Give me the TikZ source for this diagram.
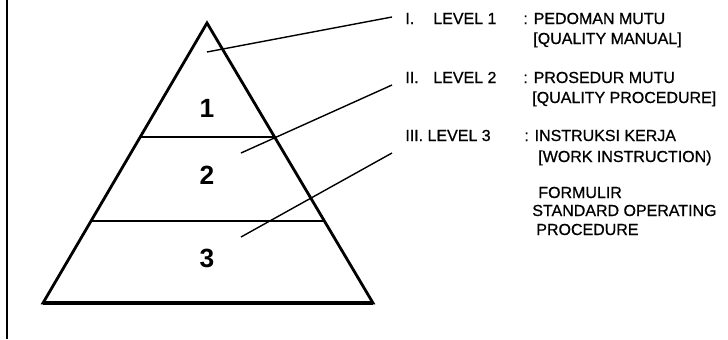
\documentclass[tikz,border=0pt]{standalone}
\usepackage{fontspec}
\setmainfont{Liberation Sans}
\newfontfamily\lblfont[RawFeature={embolden=0.8}]{Liberation Sans}
\usetikzlibrary{calc,positioning}

\begin{document}
\begin{tikzpicture}[x=0.02cm,y=-0.02cm,
  txt/.style={anchor=base west,inner sep=0pt,font=\lblfont\fontsize{9.1}{11}\selectfont},
  num/.style={inner sep=0pt,font=\fontsize{15}{15}\selectfont\bfseries},
  lead/.style={line width=0.8pt},
  edge/.style={line width=1.6pt,line join=miter}]
\useasboundingbox (0,0) rectangle (728,339);
\draw[line width=1.2pt] (7,0) -- (7,339);
% pyramid
\coordinate (top) at (207,23);
\coordinate (bl) at (43,303);
\coordinate (br) at (373,303);
\draw[edge] (top) -- (br) -- (bl) -- cycle;
\draw[line width=2.6pt] (bl) -- (br);
\draw[line width=0.8pt] ($(top)!0.407!(bl)$) -- ($(top)!0.407!(br)$);
\draw[line width=0.8pt] ($(top)!0.707!(bl)$) -- ($(top)!0.707!(br)$);
\node[num] (n1) at (207,108) {1};
\node[num] (n2) at (207,175) {2};
\node[num] (n3) at (207,258) {3};
% labels
\node[txt] (rI) at (405,24) {I.};
\node[txt] (lvI) at (433,24) {LEVEL 1};
\node[txt] (dI) at (523,24) {: PEDOMAN MUTU};
\node[txt] (eI) at (533,44) {[QUALITY MANUAL]};
\node[txt] (rII) at (405,83) {II.};
\node[txt] (lvII) at (433,83) {LEVEL 2};
\node[txt] (dII) at (523,83) {: PROSEDUR MUTU};
\node[txt] (eII) at (532,103) {[QUALITY PROCEDURE]};
\node[txt] (rIII) at (405,141) {III. LEVEL 3};
\node[txt] (dIII) at (524,141) {: INSTRUKSI KERJA};
\node[txt] (eIII) at (538,162) {[WORK INSTRUCTION)};
\node[txt] (fm) at (538,198) {FORMULIR};
\node[txt] (sop) at (532,216) {STANDARD OPERATING};
\node[txt] (pr) at (536,235) {PROCEDURE};
% leaders
\coordinate (t1) at (207,52);
\coordinate (t2) at (241,153);
\coordinate (t3) at (241,237);
\coordinate (e1) at (392,17);
\coordinate (e2) at (392,85);
\coordinate (e3) at (392,153);
\draw[lead] (t1) -- (e1);
\draw[lead] (t2) -- (e2);
\draw[lead] (t3) -- (e3);
\end{tikzpicture}
\end{document}
